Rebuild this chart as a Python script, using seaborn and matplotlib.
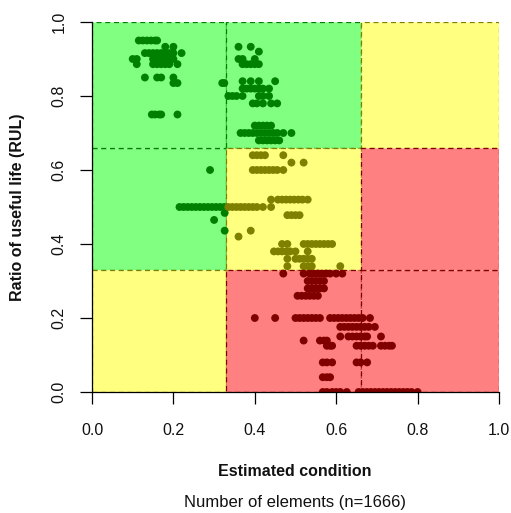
import numpy as np
import pandas as pd
import matplotlib.pyplot as plt
from matplotlib.patches import Rectangle
import seaborn as sns

# zone limits and zone colours (rows bottom -> top, cols left -> right)
zone_breaks = [0.0, 0.33, 0.66, 1.0]
zone_grid = [["yellow", "red", "red"],
             ["green", "yellow", "red"],
             ["green", "green", "yellow"]]
fill_cols = {"green": "#80FF80", "yellow": "#FFFF80", "red": "#FF8080"}
dark_cols = {"green": "#008000", "yellow": "#808000", "red": "#800000"}

# points, one list of x per RUL level
green_y = [0.95, 0.933, 0.933, 0.916, 0.92, 0.90, 0.90, 0.886, 0.886,
           0.85, 0.835, 0.835, 0.84, 0.82, 0.80, 0.78, 0.75, 0.72, 0.70,
           0.68, 0.60, 0.50, 0.484, 0.465, 0.436]
green_x = [[0.115, 0.125, 0.135, 0.145, 0.155, 0.16],
           [0.18, 0.20],
           [0.36, 0.39],
           [0.13, 0.14, 0.15, 0.16, 0.17, 0.18, 0.19, 0.20, 0.22],
           [0.41],
           [0.10, 0.11, 0.15, 0.16, 0.17, 0.18, 0.19, 0.20],
           [0.36, 0.37, 0.40],
           [0.11, 0.15, 0.16, 0.17, 0.18, 0.19, 0.21],
           [0.37, 0.38, 0.39, 0.40, 0.41],
           [0.13, 0.16, 0.17, 0.20],
           [0.20, 0.21],
           [0.32, 0.325],
           [0.37, 0.39, 0.41, 0.45],
           [0.37, 0.38, 0.39, 0.40, 0.41, 0.42, 0.435],
           [0.335, 0.345, 0.355, 0.37, 0.41, 0.42, 0.435],
           [0.395, 0.405, 0.42, 0.44, 0.455],
           [0.147, 0.155, 0.165, 0.17, 0.21],
           [0.40, 0.41, 0.42, 0.43, 0.44],
           [0.365, 0.375, 0.385, 0.395, 0.405, 0.415, 0.425, 0.435, 0.445,
            0.455, 0.47, 0.49],
           [0.41, 0.42, 0.43, 0.44, 0.45, 0.46],
           [0.29],
           [0.215, 0.225, 0.235, 0.245, 0.255, 0.265, 0.275, 0.285, 0.295,
            0.305, 0.315, 0.325],
           [0.326],
           [0.30],
           [0.326]]

yellow_y = [0.64, 0.62, 0.60, 0.52, 0.50, 0.478, 0.436, 0.42, 0.40, 0.38,
            0.36, 0.34]
yellow_x = [[0.395, 0.405, 0.415, 0.425, 0.47],
            [0.49, 0.52],
            [0.395, 0.405, 0.415, 0.425, 0.435, 0.445, 0.455, 0.47],
            [0.44, 0.457, 0.467, 0.477, 0.487, 0.497, 0.507, 0.517, 0.53],
            [0.335, 0.345, 0.355, 0.365, 0.375, 0.385, 0.395, 0.405, 0.42,
             0.44],
            [0.48, 0.49, 0.50, 0.51],
            [0.39],
            [0.36],
            [0.467, 0.48, 0.52, 0.53, 0.54, 0.55, 0.56, 0.57, 0.58, 0.59],
            [0.447, 0.457, 0.467, 0.477, 0.487, 0.50, 0.53],
            [0.48, 0.50, 0.51, 0.52, 0.53, 0.54],
            [0.48, 0.52, 0.53, 0.54, 0.61]]

red_y = [0.32, 0.30, 0.28, 0.26, 0.20, 0.176, 0.15, 0.139, 0.125, 0.08,
         0.04, 0.0]
red_x = [[0.47, 0.52, 0.535, 0.545, 0.555, 0.565, 0.575, 0.585, 0.60, 0.615],
         [0.53, 0.54, 0.55, 0.56, 0.57],
         [0.53, 0.54, 0.55, 0.56, 0.57],
         [0.505, 0.515, 0.525, 0.535, 0.545, 0.555],
         [0.40, 0.45, 0.50, 0.51, 0.52, 0.53, 0.54, 0.55, 0.56, 0.585, 0.595,
          0.605, 0.615, 0.625, 0.635, 0.645, 0.655, 0.665, 0.683],
         [0.61, 0.62, 0.63, 0.64, 0.65, 0.66, 0.67, 0.68, 0.695],
         [0.61, 0.63, 0.64, 0.65, 0.66, 0.67, 0.676, 0.71],
         [0.52, 0.56, 0.57, 0.577],
         [0.577, 0.585, 0.59, 0.65, 0.66, 0.67, 0.68, 0.69, 0.71, 0.72, 0.73,
          0.737],
         [0.567, 0.577, 0.59, 0.65, 0.66, 0.676],
         [0.567, 0.577, 0.585],
         [0.567, 0.577, 0.59, 0.60, 0.61, 0.626, 0.655, 0.665, 0.675, 0.685,
          0.695, 0.705, 0.715, 0.725, 0.735, 0.745, 0.755, 0.765, 0.775,
          0.785, 0.80]]

n_elements = 1666

rows = []
for zone, ys, xs in [("green", green_y, green_x), ("yellow", yellow_y, yellow_x),
                     ("red", red_y, red_x)]:
    for yv, xl in zip(ys, xs):
        for xv in xl:
            rows.append({"x": xv, "y": yv, "zone": zone})
df = pd.DataFrame(rows)

sns.set_style("white")
plt.rcParams['font.family'] = ['Liberation Sans', 'DejaVu Sans']

fig = plt.figure(figsize=(5.11, 5.13), dpi=100)
ax = fig.add_axes([92 / 511, 1 - 392 / 513, 407 / 511, 370 / 513])

# background zones, drawn green -> yellow -> red so red borders end on top
for col in ["green", "yellow", "red"]:
    for r in range(3):
        for c in range(3):
            if zone_grid[r][c] != col:
                continue
            x0, x1 = zone_breaks[c], zone_breaks[c + 1]
            y0, y1 = zone_breaks[r], zone_breaks[r + 1]
            ax.add_patch(Rectangle((x0, y0), x1 - x0, y1 - y0,
                                   facecolor=fill_cols[col], edgecolor=dark_cols[col],
                                   linestyle=(0, (4, 3)), linewidth=0.9, zorder=1))

sns.scatterplot(data=df, x="x", y="y", hue="zone", palette=dark_cols, s=32,
                edgecolor="none", legend=False, ax=ax, zorder=3)

ax.set_xlim(0, 1)
ax.set_ylim(0, 1)
ax.set_xticks([0, 0.2, 0.4, 0.6, 0.8, 1.0])
ax.set_yticks([0, 0.2, 0.4, 0.6, 0.8, 1.0])
ax.set_xticklabels(["0.0", "0.2", "0.4", "0.6", "0.8", "1.0"])
ax.set_yticklabels(["0.0", "0.2", "0.4", "0.6", "0.8", "1.0"], rotation=90, va="center")
ax.tick_params(axis="x", direction="out", length=8.5, width=0.9, pad=14,
               labelsize=11.5, colors="black", labelcolor="#111111")
ax.tick_params(axis="y", direction="out", length=8.5, width=0.9, pad=10,
               labelsize=11.5, colors="black", labelcolor="#111111")
ax.tick_params(bottom=True, left=True)
for side in ["top", "right"]:
    ax.spines[side].set_visible(False)
for side in ["left", "bottom"]:
    ax.spines[side].set_color("black")
    ax.spines[side].set_linewidth(0.9)
    ax.spines[side].set_zorder(4)
ax.set_xlabel("")
ax.set_ylabel("")

fig.text(295 / 511, 1 - 471 / 513, "Estimated condition", ha="center", va="center",
         fontsize=11.5, fontweight="bold", color="#111111")
fig.text(295 / 511, 1 - 502 / 513, f"Number of elements (n={n_elements})",
         ha="center", va="center", fontsize=12, color="#111111")
fig.text(18 / 511, 1 - 207 / 513, "Ratio of useful life (RUL)", ha="center",
         va="center", rotation=90, fontsize=11.5, fontweight="bold", color="#111111")

fig.savefig("out.png", dpi=100)
